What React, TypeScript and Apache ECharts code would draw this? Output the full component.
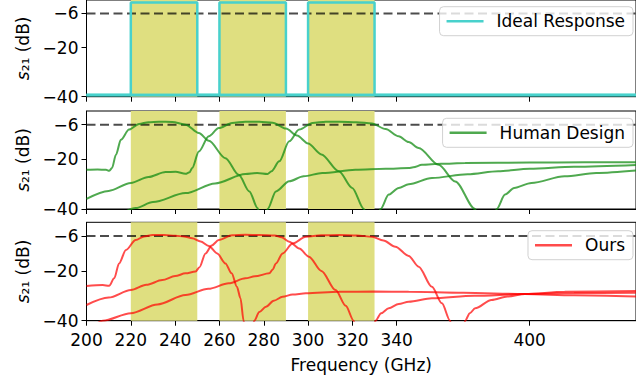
import React, { useEffect, useRef } from "react";
import * as echarts from "echarts";

// ---------- data ----------
const X_TICKS = [200, 220, 240, 260, 280, 300, 320, 340, 400];
const Y_TICKS = [-40, -20, -6];
const BANDS: [number, number][] = [
  [220, 250],
  [260, 290],
  [300, 330],
];
const THRESHOLD = -6;
const X_MIN = 200;
const X_MAX = 448;
const Y_MIN = -40;
const Y_MAX = -0.5;

// Ideal response (top panel)
const IDEAL_HIGH = -1.5;
const IDEAL_LOW = -39.3;

// Human design (middle panel) [GHz, dB]
const human1a: [number, number][] = [
  [200, -24.2], [205, -24.1], [208.8, -24.2], [210.3, -24.6], [211.5, -23.5], [213.3, -18.1],
  [215.5, -12.1], [219.2, -8.0], [223.7, -5.7], [228, -5.0], [232.7, -4.8], [238.7, -4.9],
  [244.7, -6.0], [250.7, -9.4], [255.2, -12.5], [262.7, -19.5], [268.7, -26.2], [273.5, -32.9],
  [277.2, -39.6], [278, -42],
];
const human1b: [number, number][] = [
  [281.2, -42], [281.7, -40], [285.5, -32.9], [291.5, -28.8], [298, -26.8], [306.4, -25.5],
  [321.4, -24.2], [335, -23.8], [345.4, -23.5], [347.5, -23.2], [351.4, -22.2], [360, -21.8],
  [370.9, -21.5], [400, -21.3], [425, -21.2], [448, -21.2],
];
const human2a: [number, number][] = [
  [200, -35.9], [210, -32.7], [220, -29.5], [228, -27.1], [235.7, -25.1], [240.2, -25.0],
  [244.7, -25.8], [246.5, -25.2], [247.7, -23.5], [250.7, -16.8], [255.2, -10.7], [259.7, -7.4],
  [265.7, -5.3], [271.7, -4.8], [278, -4.8], [284, -5.2], [290, -7.6], [295, -10.4],
  [300, -13.6], [306, -18.0], [313.9, -24.8], [319.9, -31.5], [325.2, -40], [326, -42],
];
const human2b: [number, number][] = [
  [331.8, -42], [332.7, -40], [336.4, -34.2], [340.9, -31.5], [345.4, -30.0], [355.9, -27.5],
  [372, -26], [385.8, -24.8], [400, -23.8], [420, -23], [448, -22.3],
];
const human3a: [number, number][] = [
  [214, -43], [222.2, -39.6], [230, -37.2], [244.7, -33.6], [258, -29.7], [271.7, -25.9],
  [277, -25.5], [281.7, -25.9], [283.5, -24.8], [287, -20.8], [291.5, -12.7], [296, -8.0],
  [302, -5.3], [308, -4.8], [314, -4.8], [322, -5.0], [328.8, -5.5], [335, -7.8],
  [340.9, -10.7], [345.4, -13.0], [349.9, -15.4], [358.9, -22.2], [366.4, -28.9], [375.4, -40], [376, -42],
];
const human3b: [number, number][] = [
  [384.5, -42], [385.1, -40], [388.9, -34.2], [393, -31.5], [400.8, -29.5], [415.8, -26.8],
  [430, -25.5], [448, -24.5],
];

// Ours (bottom panel) [GHz, dB]
const ours1a: [number, number][] = [
  [200, -26.1], [207.3, -25.7], [210.2, -26.0], [212.5, -23], [214.7, -17], [217.8, -11.6],
  [222.2, -7.6], [226, -6.2], [229.8, -5.6], [235, -5.6], [240.2, -5.9], [244, -6.2],
  [247.7, -6.9], [251.5, -8.2], [255.2, -10], [259, -13], [262.7, -17], [265.5, -21],
  [267.9, -26.4], [269.5, -31], [270.9, -40], [271.3, -42],
];
const ours1b: [number, number][] = [
  [275.2, -42], [275.7, -40], [278, -36.5], [281, -34.4], [284.5, -32], [288.5, -30.4],
  [293, -29.5], [299, -29], [314, -28.4], [330, -28.3], [345.4, -28.4], [370, -28.8],
  [397.8, -29.3], [420, -29.8], [448, -30.3],
];
const ours2a: [number, number][] = [
  [200, -33.7], [210, -30.7], [220, -27.7], [227, -25.6], [234.2, -23.7], [240, -22.1],
  [244.7, -21], [249.2, -20.3], [251, -18.5], [253.7, -13], [256.5, -9.8], [259.7, -7.6],
  [265.7, -5.7], [271.7, -5.5], [278, -5.6], [285, -5.8], [288, -6.5], [291.5, -8.3],
  [296, -11], [300.4, -14.3], [306, -20], [312.4, -27.7], [317, -34], [320.6, -40], [321, -42],
];
const ours2b: [number, number][] = [
  [329.8, -42], [330.4, -40], [333, -37], [336.4, -35], [340.9, -33.3], [345.4, -32.4],
  [355.9, -31], [375, -30], [397.8, -29.3], [420, -28.9], [448, -28.8],
];
const ours3a: [number, number][] = [
  [205, -41], [207.3, -40], [220, -37], [232, -33.5], [244.7, -29.7], [255, -27.2],
  [264.2, -25], [271.7, -23], [276, -22.2], [282.5, -21], [284, -19.5], [285.5, -17],
  [288.5, -13], [293, -9], [299, -6.3], [306, -5.7], [314, -5.6], [322, -5.8], [328.9, -6.3],
  [334, -7.8], [339.4, -10.3], [345.4, -14], [349.9, -18.3], [355.9, -26.4], [360.4, -33],
  [364.1, -40], [364.6, -42],
];
const ours3b: [number, number][] = [
  [370.4, -42], [370.9, -40], [373, -37], [375.4, -35], [382.8, -31.7], [390, -30.3],
  [397.8, -29.3], [415.8, -28.4], [448, -28.1],
];

const SERIES_NAMES = ["Ideal Response", "Human Design", "Ours"];
const COLORS = ["#48d1cc", "rgba(20,140,20,0.75)", "rgba(255,0,0,0.7)"];
// ---------- end data ----------

const FONT = "DejaVu Sans";
const FS = 17;

function idealCurve(band: [number, number]): [number, number][] {
  return [
    [X_MIN, IDEAL_LOW],
    [band[0], IDEAL_LOW],
    [band[0], IDEAL_HIGH],
    [band[1], IDEAL_HIGH],
    [band[1], IDEAL_LOW],
    [X_MAX, IDEAL_LOW],
  ];
}

const minus = (v: number) => String(v).replace("-", "\u2212");

export default function App() {
  const ref = useRef<HTMLDivElement>(null);
  useEffect(() => {
    if (!ref.current) return;
    const chart = echarts.init(ref.current, undefined, { renderer: "svg" });

    const gridPos = [
      { top: -1, height: 97.7 },
      { top: 111, height: 98 },
      { top: 222.3, height: 98.4 },
    ];
    const grid = gridPos.map((g) => ({
      left: 86.5,
      width: 552,
      top: g.top,
      height: g.height,
      show: true,
      borderColor: "#000",
      borderWidth: 1,
      backgroundColor: "transparent",
      containLabel: false,
    }));

    const xAxis = [0, 1, 2].map((i) => ({
      type: "value",
      gridIndex: i,
      min: X_MIN,
      max: X_MAX,
      axisLine: { show: true, onZero: false, lineStyle: { color: "#000", width: 1 } },
      axisTick: { show: true, customValues: X_TICKS, length: 5, lineStyle: { color: "#000", width: 1 } },
      axisLabel: {
        show: i === 2,
        customValues: X_TICKS,
        fontSize: FS,
        fontFamily: FONT,
        color: "#000",
        margin: 11,
      },
      splitLine: { show: false },
      name: i === 2 ? "Frequency (GHz)" : "",
      nameLocation: "middle",
      nameGap: 36,
      nameTextStyle: { fontSize: FS, fontFamily: FONT, color: "#000" },
    }));

    const yAxis = [0, 1, 2].map((i) => ({
      type: "value",
      gridIndex: i,
      min: Y_MIN,
      max: Y_MAX,
      axisLine: { show: true, onZero: false, lineStyle: { color: "#000", width: 1 } },
      axisTick: { show: true, customValues: Y_TICKS, length: 5, lineStyle: { color: "#000", width: 1 } },
      axisLabel: {
        customValues: Y_TICKS,
        formatter: (v: number) => minus(v),
        fontSize: FS,
        fontFamily: FONT,
        color: "#000",
        margin: 8,
      },
      splitLine: { show: false },
      name: "{i|s}\u2082\u2081 (dB)",
      nameLocation: "middle",
      nameRotate: 90,
      nameGap: 54,
      nameTextStyle: {
        fontSize: FS,
        fontFamily: FONT,
        color: "#000",
        rich: { i: { fontStyle: "italic", fontSize: FS, fontFamily: FONT, color: "#000" } },
      },
    }));

    const series: any[] = [];
    for (let i = 0; i < 3; i++) {
      series.push({
        name: "bands" + i,
        type: "line",
        xAxisIndex: i,
        yAxisIndex: i,
        data: [],
        z: 1,
        silent: true,
        markArea: {
          silent: true,
          itemStyle: { color: "#dfdf80" },
          data: BANDS.map((b) => [{ xAxis: b[0] }, { xAxis: b[1] }]),
        },
      });
      series.push({
        name: "threshold" + i,
        type: "line",
        xAxisIndex: i,
        yAxisIndex: i,
        data: [
          [X_MIN, THRESHOLD],
          [X_MAX, THRESHOLD],
        ],
        symbol: "none",
        z: 2,
        silent: true,
        lineStyle: { color: "rgba(0,0,0,0.7)", width: 2, type: [9, 4.5] },
      });
    }

    const curveSets: [number, number][][][] = [
      BANDS.map((b) => idealCurve(b)),
      [human1a, human1b, human2a, human2b, human3a, human3b],
      [ours1a, ours1b, ours2a, ours2b, ours3a, ours3b],
    ];
    curveSets.forEach((set, i) => {
      set.forEach((d) => {
        series.push({
          name: SERIES_NAMES[i],
          type: "line",
          xAxisIndex: i,
          yAxisIndex: i,
          data: d,
          symbol: "none",
          showSymbol: false,
          smooth: i === 0 ? false : 0.3,
          smoothMonotone: "x",
          z: 3,
          clip: true,
          itemStyle: { color: COLORS[i] },
          lineStyle: { color: COLORS[i], width: i === 0 ? 2.5 : 2 },
        });
      });
    });

    const legendTops = [6.7, 118.3, 230.7];
    const legend = SERIES_NAMES.map((n, i) => ({
      data: [{ name: n, icon: "rect" }],
      right: 3,
      top: legendTops[i],
      orient: "horizontal",
      itemWidth: 37,
      itemHeight: 2.5,
      padding: [6, 8, 6, 7],
      backgroundColor: "rgba(255,255,255,0.8)",
      borderColor: "rgba(204,204,204,0.9)",
      borderWidth: 1,
      borderRadius: 4,
      selectedMode: false,
      itemStyle: { color: COLORS[i] },
      textStyle: { fontSize: FS, fontFamily: FONT, color: "#000", padding: [0, 0, 0, 8] },
    }));

    chart.setOption({
      animation: false,
      backgroundColor: "#fff",
      textStyle: { fontFamily: FONT },
      grid,
      xAxis,
      yAxis,
      legend,
      series,
    });
    return () => chart.dispose();
  }, []);
  return (
    <div
      ref={ref}
      style={{ position: "fixed", left: 0, top: 0, width: 636, height: 383, background: "#fff" }}
    />
  );
}
